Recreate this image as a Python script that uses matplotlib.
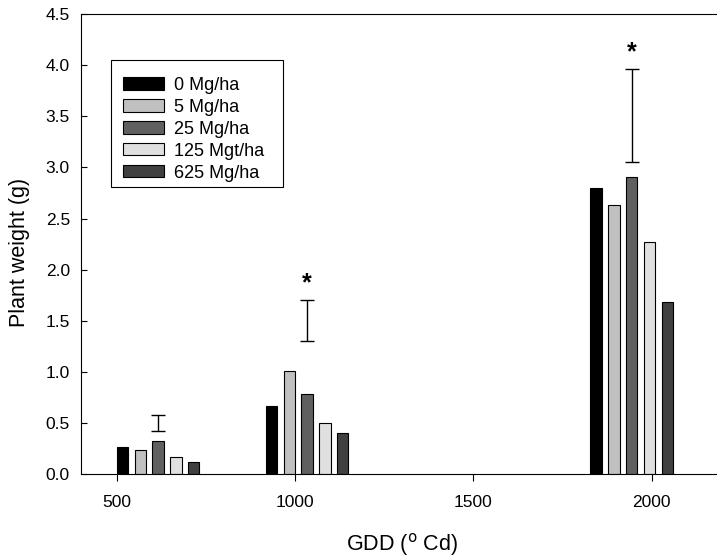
import numpy as np
import matplotlib.pyplot as plt
from matplotlib.patches import Rectangle

plt.rcParams['font.family'] = ['Liberation Sans', 'DejaVu Sans']

# GDD where each harvest was taken (group centres)
gdd = [616, 1034, 1944]
rates = ['0 Mg/ha', '5 Mg/ha', '25 Mg/ha', '125 Mgt/ha', '625 Mg/ha']
colors = ['#000000', '#c0c0c0', '#606060', '#e0e0e0', '#404040']

# plant weight (g) per rate, one list per rate across the three harvests
weights = [
    [0.265, 0.663, 2.80],
    [0.235, 1.006, 2.63],
    [0.330, 0.784, 2.91],
    [0.170, 0.500, 2.27],
    [0.118, 0.402, 1.686],
]

# LSD-style bars drawn at the group centre
err_mid = [0.50, 1.50, 3.505]
err_half = [0.08, 0.20, 0.455]
signif = [False, True, True]

W, H = 717, 559
fig = plt.figure(figsize=(W / 100, H / 100), dpi=100)
ax = fig.add_axes([81 / W, (H - 474.3) / H, 642 / W, 460.3 / H])

offsets = np.array([-100, -50, 0, 50, 100])
for i, (lab, col) in enumerate(zip(rates, colors)):
    ax.bar(np.array(gdd) + offsets[i], weights[i], width=32, color=col,
           edgecolor='black', linewidth=0.8, label=lab)

ax.errorbar(gdd, err_mid, yerr=err_half, fmt='none', ecolor='black',
            elinewidth=1, capsize=4.7, capthick=1)
for x, m, h, s in zip(gdd, err_mid, err_half, signif):
    if s:
        ax.text(x, m + h + 0.05, '*', ha='center', va='bottom',
                fontsize=18, fontweight='bold')

ax.set_xlim(400, 2200)
ax.set_ylim(0, 4.5)
ax.set_xticks([500, 1000, 1500, 2000])
ax.set_yticks(np.arange(0, 4.51, 0.5))
ax.yaxis.set_major_formatter(plt.FormatStrFormatter('%.1f'))
ax.tick_params(axis='x', direction='out', length=5, labelsize=12.5, pad=10)
ax.tick_params(axis='y', direction='in', length=4, labelsize=12.5, right=True, pad=8)

ax.set_xlabel(r'GDD ($^{\rm o}$ Cd)', fontsize=15.5)
ax.xaxis.set_label_coords(0.5, -(531 - 474.3) / 460.3)
ax.set_ylabel('Plant weight (g)', fontsize=15.5)
ax.yaxis.set_label_coords((30 - 81) / 642, 1 - (252 - 14) / 460.3)

# legend without its own frame; box drawn to the reference size
leg = ax.legend(loc='upper left', bbox_to_anchor=(42 / 642, 1 - 63 / 460.3),
                fontsize=13, frameon=False,
                handlelength=2.25, handleheight=0.68, handletextpad=0.55,
                labelspacing=0.27, borderpad=0, borderaxespad=0)
ax.add_patch(Rectangle(((111 - 81) / 642, 1 - (187 - 14) / 460.3),
                       172 / 642, 127 / 460.3, transform=ax.transAxes,
                       fill=False, edgecolor='black', linewidth=0.8, zorder=5))

fig.savefig('out.png', dpi=100)
